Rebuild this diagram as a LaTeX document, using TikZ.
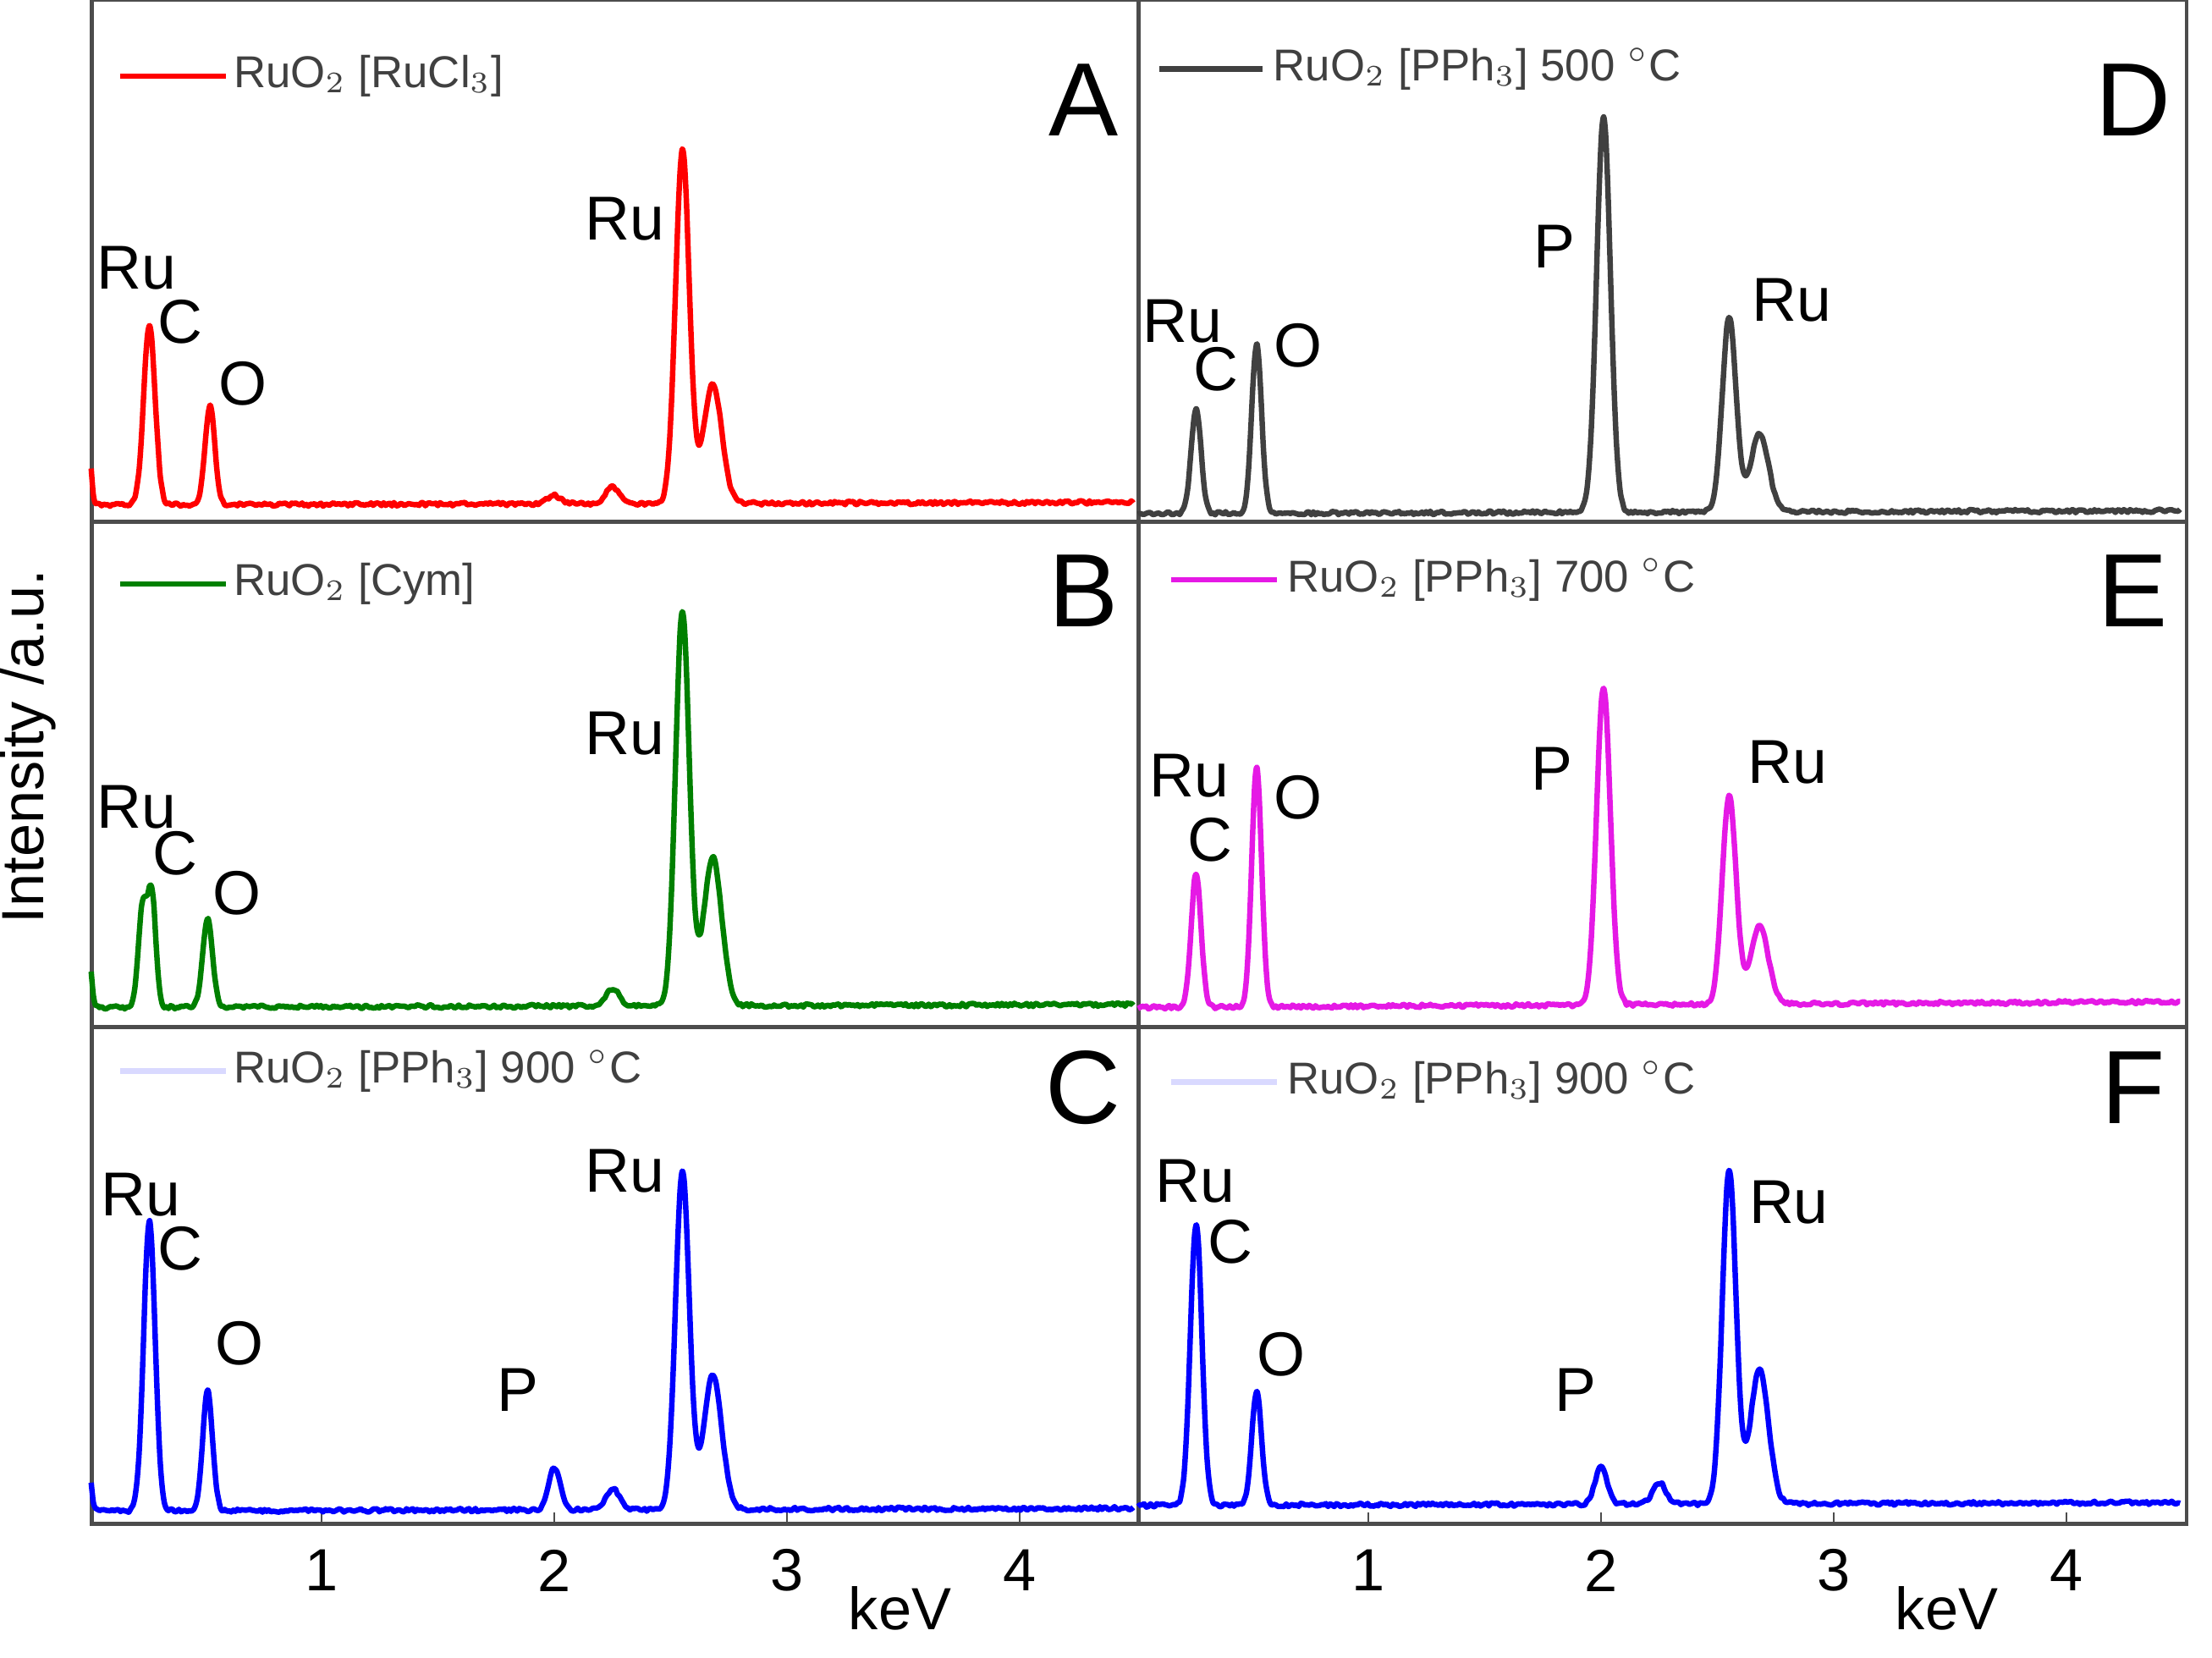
\documentclass[tikz,border=0pt]{standalone}
\usepackage{fontspec}
\setmainfont{Liberation Sans}
\definecolor{mag}{rgb}{0.9,0.1,0.9}
\begin{document}
\begin{tikzpicture}[x=0.01cm,y=0.01cm,
  declare function={g(\t,\c,\h,\w)=\h*exp(-(min(abs(\t-\c)/\w,8))^2);},
  big/.style={font=\fontsize{21}{21}\selectfont},
  pk/.style={font=\fontsize{12.5}{12.5}\selectfont},
  leg/.style={font=\fontsize{9}{9}\selectfont,text=black!75,anchor=west,inner sep=0pt},
  tl/.style={font=\fontsize{12}{12}\selectfont},
  sp/.style={line width=1.1pt,line join=round}]
\useasboundingbox (0,0) rectangle (1568,1175);
\pgfmathsetseed{7}
% frames
\draw[line width=0.8pt,black!70] (65,95) rectangle (1550,1175);
\draw[line width=0.8pt,black!70] (807,95) -- (807,1175);
\draw[line width=0.8pt,black!70] (65,805) -- (1550,805);
\draw[line width=0.8pt,black!70] (65,447) -- (1550,447);
% ticks
\foreach \k/\t in {1/1,2/2,3/3,4/4}{
  \draw[black!70] ({63+165*\k},95) -- ++(0,8);
  \draw[black!70] ({805+165*\k},95) -- ++(0,8);
  \node[tl] (tl\k) at ({63+165*\k},62) {\t};
  \node[tl] (tr\k) at ({805+165*\k},62) {\t};
}
\node[tl] (kl) at (638,35) {keV};
\node[tl] (kr) at (1380,35) {keV};
\node[tl,rotate=90] (yl) at (20,646) {Intensity /a.u.};
% spectra
\newcommand{\spec}[4]{\draw[sp,#3] plot[domain=0.01:4.49,samples=500,smooth] ({#1+165*\x},{#2+#4+1.2*rand});}
% A
\spec{63}{813}{red}{4+2*\x/4.5+g(\x,0.26,127,0.035)+g(\x,0.52,70,0.03)+g(\x,2.0,6,0.04)+g(\x,2.25,12,0.04)+g(\x,2.55,250,0.042)+g(\x,2.68,85,0.055)+g(\x,0,40,0.015)}
% B
\spec{63}{457}{green!50!black}{4+2*\x/4.5+g(\x,0.23,70,0.025)+g(\x,0.27,80,0.025)+g(\x,0.51,62,0.03)+g(\x,2.25,12,0.04)+g(\x,2.55,280,0.042)+g(\x,2.68,105,0.055)+g(\x,0,40,0.015)}
% C
\spec{63}{100}{blue}{4+2*\x/4.5+g(\x,0.26,205,0.035)+g(\x,0.51,85,0.03)+g(\x,2.0,30,0.035)+g(\x,2.25,15,0.04)+g(\x,2.55,240,0.042)+g(\x,2.68,95,0.055)+g(\x,0,30,0.015)}
% D
\spec{805}{807}{black!75}{4+2*\x/4.5+g(\x,0.26,75,0.03)+g(\x,0.52,120,0.03)+g(\x,2.01,280,0.042)+g(\x,2.55,138,0.042)+g(\x,2.68,55,0.055)}
% E
\spec{805}{457}{mag}{4+4*\x/4.5+g(\x,0.26,95,0.03)+g(\x,0.52,170,0.03)+g(\x,2.01,225,0.042)+g(\x,2.55,148,0.042)+g(\x,2.68,55,0.055)}
% F
\spec{805}{105}{blue}{3+2*\x/4.5+g(\x,0.26,200,0.035)+g(\x,0.52,80,0.03)+g(\x,2.0,28,0.035)+g(\x,2.25,15,0.04)+g(\x,2.55,236,0.042)+g(\x,2.68,95,0.055)}
% panel letters
\node[big] (LA) at (768,1104) {A};
\node[big] (LB) at (768,756) {B};
\node[big] (LC) at (768,404) {C};
\node[big] (LD) at (1512,1104) {D};
\node[big] (LE) at (1512,756) {E};
\node[big] (LF) at (1512,404) {F};
% legends
\coordinate (a1) at (85,1121); \coordinate (a2) at (160,1121);
\draw[red,line width=1.1pt] (a1) -- (a2);
\node[leg] (ga) at (165,1121) {RuO$_2$ [RuCl$_3$]};
\coordinate (b1) at (85,761); \coordinate (b2) at (160,761);
\draw[green!50!black,line width=1.1pt] (b1) -- (b2);
\node[leg] (gb) at (165,761) {RuO$_2$ [Cym]};
\coordinate (c1) at (85,416); \coordinate (c2) at (160,416);
\draw[blue!15,line width=1.1pt] (c1) -- (c2);
\node[leg] (gc) at (165,416) {RuO$_2$ [PPh$_3$] 900 $^{\circ}$C};
\coordinate (d1) at (822,1126); \coordinate (d2) at (895,1126);
\draw[black!75,line width=1.1pt] (d1) -- (d2);
\node[leg] (gd) at (902,1126) {RuO$_2$ [PPh$_3$] 500 $^{\circ}$C};
\coordinate (e1) at (830,764); \coordinate (e2) at (905,764);
\draw[mag,line width=1.1pt] (e1) -- (e2);
\node[leg] (ge) at (912,764) {RuO$_2$ [PPh$_3$] 700 $^{\circ}$C};
\coordinate (f1) at (830,408); \coordinate (f2) at (905,408);
\draw[blue!15,line width=1.1pt] (f1) -- (f2);
\node[leg] (gf) at (912,408) {RuO$_2$ [PPh$_3$] 900 $^{\circ}$C};
% peak labels
\foreach \n/\x/\y/\t in {a1/97/190/Ru,a2/128/228/C,a3/172/272/O,a4/443/155/Ru,
 b1/97/572/Ru,b2/124/605/C,b3/168/633/O,b4/443/520/Ru,
 c1/100/847/Ru,c2/128/885/C,c3/170/952/O,c4/367/985/P,c5/443/830/Ru,
 d1/838/228/Ru,d2/862/262/C,d3/920/245/O,d4/1102/175/P,d5/1270/213/Ru,
 e1/843/550/Ru,e2/858/595/C,e3/920/565/O,e4/1100/545/P,e5/1267/540/Ru,
 f1/847/837/Ru,f2/872/880/C,f3/908/960/O,f4/1117/985/P,f5/1268/852/Ru}
 \node[pk] (p\n) at (\x,1175-\y) {\t};
\end{tikzpicture}
\end{document}
